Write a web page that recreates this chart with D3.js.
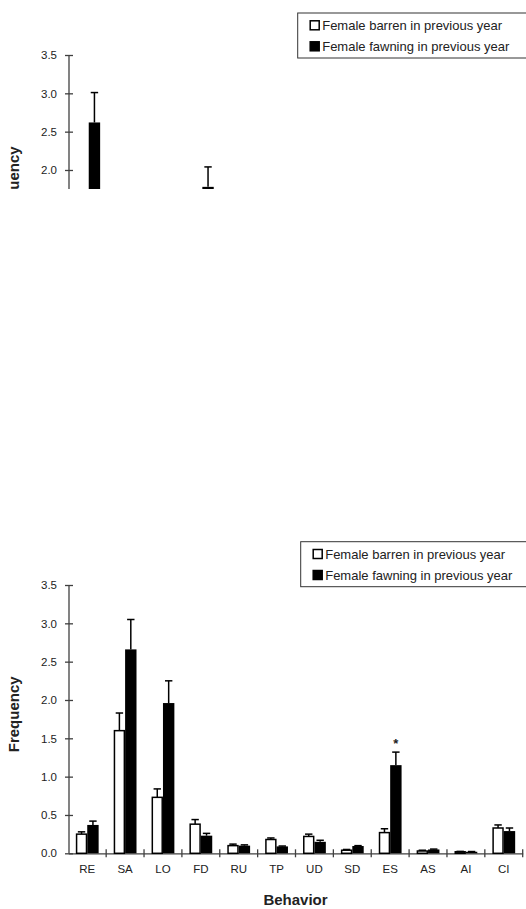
<!DOCTYPE html>
<html>
<head>
<meta charset="utf-8">
<script src="https://cdn.jsdelivr.net/npm/d3@7"></script>
<style>
  html, body { margin: 0; padding: 0; background: #fff; }
  svg { display: block; }
  text { font-family: "Liberation Sans", Arial, sans-serif; fill: #222; }
</style>
</head>
<body>
<svg id="chart" width="526" height="909"></svg>
<script>
// ---- data ----
const categories = ["RE","SA","LO","FD","RU","TP","UD","SD","ES","AS","AI","CI"];
const seriesNames = ["Female barren in previous year", "Female fawning in previous year"];
const barrenMean  = [0.25, 1.60, 0.73, 0.38, 0.10, 0.18, 0.22, 0.04, 0.27, 0.03, 0.02, 0.33];
const barrenSE    = [0.03, 0.23, 0.11, 0.06, 0.02, 0.02, 0.03, 0.01, 0.05, 0.01, 0.005, 0.04];
const fawningMean = [0.37, 2.66, 1.96, 0.23, 0.10, 0.09, 0.15, 0.095, 1.15, 0.05, 0.02, 0.29];
const fawningSE   = [0.05, 0.39, 0.29, 0.03, 0.01, 0.005, 0.02, 0.005, 0.17, 0.005, 0.003, 0.04];
const significant = ["ES"];
const yTicks = [0, 0.5, 1.0, 1.5, 2.0, 2.5, 3.0, 3.5];

// partial (clipped) copy at top of the page: only the marks visible above the clip
const topFawningMean = [2.62, null, null, 1.78, null, null, null, null, null, null, null, null];
const topFawningSE   = [0.39, null, null, 0.26, null, null, null, null, null, null, null, null];

const svg = d3.select("#chart");

function drawChart(opts) {
  const g = svg.append("g").attr("transform", `translate(0,${opts.dy})`);
  const x0 = 68.3, x1 = 522.7, yBottom = 853.3, yTop = 585;
  const x = d3.scaleBand().domain(categories).range([x0, x1]).paddingInner(0).paddingOuter(0);
  const xs = d3.scaleBand().domain([0, 1]).range([0, x.bandwidth()]).paddingInner(0).paddingOuter(0.66);
  const y = d3.scaleLinear().domain([0, 3.5]).range([yBottom, yTop]);

  let plot = g;
  if (opts.clipY != null) {
    const id = "clip" + Math.abs(Math.round(opts.dy));
    svg.append("defs").append("clipPath").attr("id", id)
      .append("rect").attr("x", 0).attr("y", -opts.dy - 10).attr("width", 526).attr("height", opts.clipY + 10);
    plot = g.append("g").attr("clip-path", `url(#${id})`);
  }

  // y axis
  const yAxis = d3.axisLeft(y).tickValues(yTicks).tickFormat(d3.format(".1f")).tickSize(4).tickPadding(8);
  const ya = plot.append("g").attr("transform", `translate(${x0 + 0.7},0)`).call(yAxis);
  ya.select(".domain").attr("stroke", "#404040").attr("stroke-width", 1.3).attr("d", `M0,${yBottom}V${yTop}`);
  ya.selectAll(".tick line").attr("x1", 4).attr("x2", -4).attr("stroke", "#404040").attr("stroke-width", 1.3);
  ya.selectAll(".tick text").style("font-size", "11.5px").attr("fill", "#222")
    .style("font-family", "'Liberation Sans', Arial, sans-serif");

  // x axis
  const xAxis = d3.axisBottom(x).tickSize(0).tickPadding(12);
  const xa = plot.append("g").attr("transform", `translate(0,${yBottom})`).call(xAxis);
  xa.select(".domain").attr("stroke", "#404040").attr("stroke-width", 1.3);
  xa.selectAll(".tick text").style("font-size", "11.5px").attr("fill", "#222")
    .style("font-family", "'Liberation Sans', Arial, sans-serif");
  const bounds = categories.map(c => x(c)).concat([x1]);
  xa.selectAll("line.bound").data(bounds.slice(1)).join("line").attr("class", "bound")
    .attr("x1", d => d).attr("x2", d => d).attr("y1", -4).attr("y2", 4)
    .attr("stroke", "#404040").attr("stroke-width", 1.3);

  // bars
  const series = [
    {i: 0, mean: opts.barren, se: opts.barrenSE, fill: "#fff"},
    {i: 1, mean: opts.fawning, se: opts.fawningSE, fill: "#000"}
  ];
  series.forEach(s => {
    if (!s.mean) return;
    const pts = categories.map((c, k) => ({c, m: s.mean[k], e: s.se[k]})).filter(d => d.m != null);
    const bx = d => x(d.c) + xs(s.i) + opts.shiftX;
    plot.selectAll(null).data(pts).join("line")
      .attr("x1", d => bx(d) + xs.bandwidth() / 2).attr("x2", d => bx(d) + xs.bandwidth() / 2)
      .attr("y1", d => y(d.m)).attr("y2", d => y(d.m + d.e))
      .attr("stroke", "#000").attr("stroke-width", 1.5);
    plot.selectAll(null).data(pts).join("line")
      .attr("x1", d => bx(d) + xs.bandwidth() / 2 - 3.7).attr("x2", d => bx(d) + xs.bandwidth() / 2 + 3.7)
      .attr("y1", d => y(d.m + d.e)).attr("y2", d => y(d.m + d.e))
      .attr("stroke", "#000").attr("stroke-width", 1.5);
    plot.selectAll(null).data(pts).join("rect")
      .attr("x", d => bx(d) + (s.i === 0 ? 0.75 : 0))
      .attr("width", xs.bandwidth() - (s.i === 0 ? 1.5 : 0))
      .attr("y", d => y(d.m))
      .attr("height", d => y(0) - y(d.m))
      .attr("fill", s.fill)
      .attr("stroke", "#000").attr("stroke-width", s.i === 0 ? 1.5 : 0);
  });

  // significance marker
  if (opts.stars) {
    plot.selectAll(null).data(significant).join("text")
      .attr("x", c => x(c) + xs(1) + xs.bandwidth() / 2)
      .attr("y", c => y(fawningMean[categories.indexOf(c)] + fawningSE[categories.indexOf(c)]) - 4)
      .attr("text-anchor", "middle").style("font-size", "13px").style("font-weight", "bold")
      .text("*");
  }

  // axis titles
  plot.append("text").attr("transform", `translate(18.7,714.3) rotate(-90)`)
    .attr("text-anchor", "middle").style("font-size", "15px").style("font-weight", "bold").text("Frequency");
  if (opts.xTitle) {
    plot.append("text").attr("x", (x0 + x1) / 2).attr("y", 905)
      .attr("text-anchor", "middle").style("font-size", "15px").style("font-weight", "bold").text("Behavior");
  }

  // legend
  const lg = g.append("g").attr("transform", `translate(${opts.legendX},${opts.legendY})`);
  lg.append("rect").attr("x", 0).attr("y", 0).attr("width", 240).attr("height", 45)
    .attr("fill", "#fff").attr("stroke", "#333").attr("stroke-width", 1);
  seriesNames.forEach((n, k) => {
    const yy = 12.3 + k * 21;
    lg.append("rect").attr("x", 12.5).attr("y", yy - 4.5).attr("width", 9).attr("height", 9)
      .attr("fill", k === 0 ? "#fff" : "#000").attr("stroke", "#000").attr("stroke-width", 1.5);
    lg.append("text").attr("x", 24.5).attr("y", yy + 4.6).style("font-size", "13px").text(n);
  });
}

// clipped partial copy at top
drawChart({dy: -530, clipY: 189, barren: null, barrenSE: null,
           fawning: topFawningMean, fawningSE: topFawningSE,
           shiftX: 1.5, legendX: 297.7, legendY: 543, stars: false, xTitle: false});
// full chart
drawChart({dy: 0, clipY: null, barren: barrenMean, barrenSE: barrenSE,
           fawning: fawningMean, fawningSE: fawningSE,
           shiftX: 0, legendX: 300.7, legendY: 541.7, stars: true, xTitle: true});
</script>
</body>
</html>
